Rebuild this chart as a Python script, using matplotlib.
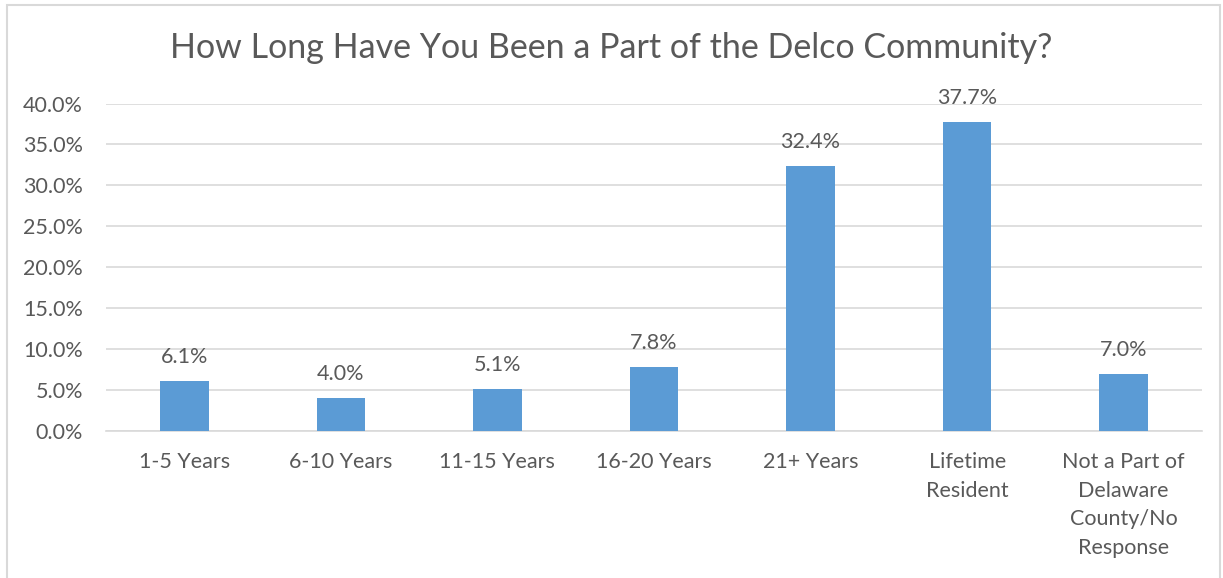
import matplotlib
matplotlib.use("Agg")
import matplotlib.pyplot as plt
from matplotlib.patches import Rectangle
from matplotlib.ticker import FuncFormatter, MultipleLocator

categories = ["1-5 Years", "6-10 Years", "11-15 Years", "16-20 Years",
              "21+ Years", "Lifetime\nResident",
              "Not a Part of\nDelaware\nCounty/No\nResponse"]
shares = [6.1, 4.0, 5.1, 7.8, 32.4, 37.7, 7.0]

BAR_COLOR = "#5B9BD5"
TEXT_COLOR = "#595959"
GRID_COLOR = "#D9D9D9"

plt.rcParams["font.family"] = ["Lato", "DejaVu Sans"]

fig = plt.figure(figsize=(12.23, 5.78), dpi=100)
ax = fig.add_axes([106 / 1223, 1 - 431 / 578, (1202 - 106) / 1223, (431 - 103.5) / 578])

x = range(len(categories))
bars = ax.bar(x, shares, width=0.31, color=BAR_COLOR, zorder=3)
ax.bar_label(bars, labels=[f"{v:.1f}%" for v in shares], padding=10,
             fontsize=15.5, color=TEXT_COLOR)

ax.set_xlim(-0.5, len(categories) - 0.5)
ax.set_ylim(0, 40)
ax.yaxis.set_major_locator(MultipleLocator(5))
ax.yaxis.set_major_formatter(FuncFormatter(lambda v, _: f"{v:.1f}%"))
ax.set_xticks(list(x))
ax.set_xticklabels(categories, va="top", linespacing=1.55)

ax.grid(axis="y", color=GRID_COLOR, linewidth=1.2, zorder=0)
ax.tick_params(axis="both", length=0, labelsize=15.5, colors=TEXT_COLOR)
ax.tick_params(axis="x", pad=15)
ax.tick_params(axis="y", pad=16.5)
for side in ["top", "right", "left"]:
    ax.spines[side].set_visible(False)
ax.spines["bottom"].set_color(GRID_COLOR)
ax.spines["bottom"].set_linewidth(1.2)

fig.text(0.5, 1 - 48 / 578, "How Long Have You Been a Part of the Delco Community?",
         ha="center", va="center", fontsize=24.5, color=TEXT_COLOR)

# chart area frame
fig.patches.append(Rectangle((7 / 1223, -0.01), (1220 - 7) / 1223, 1 - 5 / 578 + 0.01,
                             transform=fig.transFigure, fill=False,
                             edgecolor=GRID_COLOR, linewidth=1.5))

fig.savefig("out.png", dpi=100)
